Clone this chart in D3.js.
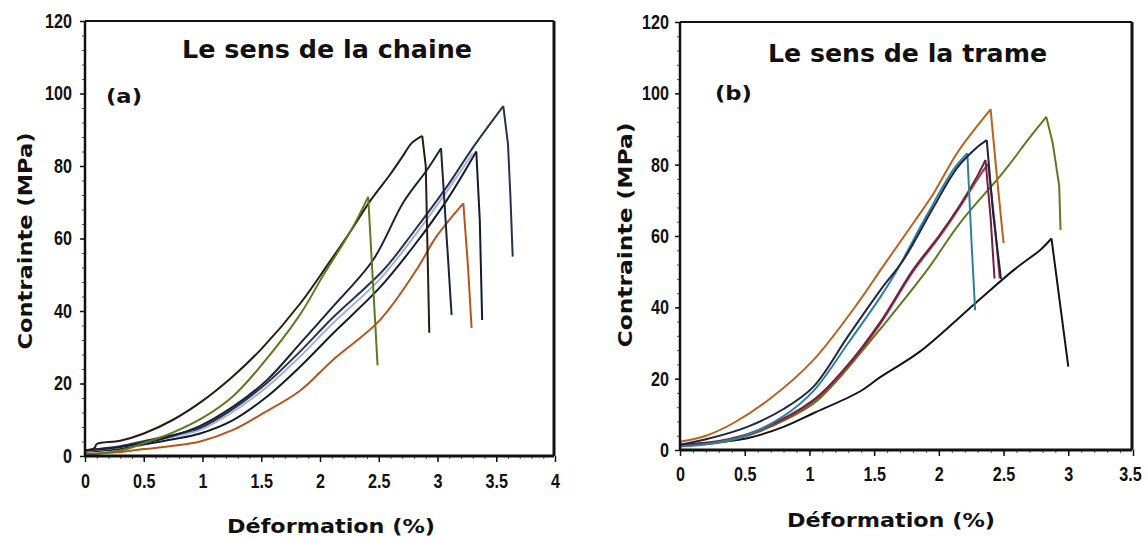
<!DOCTYPE html>
<html><head><meta charset="utf-8">
<script src="https://cdn.jsdelivr.net/npm/d3@7"></script>
<style>
html,body{margin:0;padding:0;background:#fff;}
svg{display:block;}
.tick text{font-family:'Liberation Sans',Arial,sans-serif;font-weight:bold;font-size:20px;fill:#111;}
.ttl{font-family:'DejaVu Sans',Verdana,sans-serif;font-weight:bold;fill:#111;}
</style></head>
<body>
<svg id="c" width="1148" height="537"></svg>
<script>
// ---------- data (x = Déformation %, y = Contrainte MPa) ----------
const xTicksA = [0, 0.5, 1, 1.5, 2, 2.5, 3, 3.5, 4];
const xTicksB = [0, 0.5, 1, 1.5, 2, 2.5, 3, 3.5];
const yTicks = [0, 20, 40, 60, 80, 100, 120];
const titleA = "Le sens de la chaine";
const titleB = "Le sens de la trame";
const tagA = "(a)";
const tagB = "(b)";
const yLabel = "Contrainte (MPa)";
const xLabel = "Déformation (%)";

// Panel (a) - chaîne
const aBrown = [[0,0.5],[0.3,1.1],[0.5,1.9],[0.75,2.8],[0.98,4],[1.26,7.2],[1.5,11.5],[1.83,18],[2.11,26.5],[2.51,37.5],[2.82,51.3],[2.99,60.5],[3.22,69.7],[3.26,52],[3.29,35.3]];
const aNavy4 = [[0,1.2],[0.3,2],[0.5,3.2],[0.75,4.6],[0.98,6.2],[1.26,9.9],[1.55,16.4],[1.83,24.6],[2.11,33.8],[2.51,46.5],[2.8,58],[3.08,70.6],[3.33,84],[3.36,65],[3.38,37.5]];
const aLightBlue = [[0,1.3],[0.3,2.4],[0.5,3.7],[0.75,5.3],[0.98,7.2],[1.26,12.2],[1.55,19.1],[1.83,27.4],[2.11,36.6],[2.51,48.8],[2.8,60.5],[3.08,73],[3.3,83.5]];
const aNavy5 = [[0,1.6],[0.3,2.7],[0.5,4.1],[0.75,5.8],[0.98,7.8],[1.26,13],[1.55,20.2],[1.83,28.8],[2.11,38.2],[2.54,51.3],[2.8,62],[3.08,74.3],[3.3,85],[3.56,96.5],[3.6,86],[3.62,72],[3.64,55]];
const aNavy3 = [[0,1.5],[0.3,2.5],[0.5,3.6],[0.75,5.6],[0.98,8.3],[1.26,13.6],[1.55,21],[1.83,31],[2.11,41.2],[2.45,54],[2.71,70],[2.91,78.9],[3.03,84.9],[3.12,38.9]];
const aBlack = [[0,1.5],[0.08,2.2],[0.1,3.3],[0.3,4.2],[0.5,6.2],[0.75,10],[1.0,15.2],[1.26,22],[1.5,29.5],[1.83,42],[2.07,53],[2.26,62],[2.43,70.5],[2.6,77.8],[2.7,82.5],[2.78,86.3],[2.87,88.3],[2.9,80],[2.93,34]];
const aGreen = [[0,0.3],[0.3,1.5],[0.5,3.5],[0.75,6.5],[1.0,10.5],[1.26,16.5],[1.5,25],[1.83,39],[2.03,50],[2.26,62],[2.41,71.5],[2.49,25]];

// Panel (b) - trame
const bBlack = [[0,1.3],[0.25,2],[0.52,3.3],[0.8,6.5],[1.03,10.3],[1.39,16.4],[1.55,20.5],[1.85,27.5],[2.28,41.1],[2.58,50.5],[2.79,56.3],[2.87,59.3],[2.94,40],[3.0,23.4]];
const bGreen = [[0,1.2],[0.3,2],[0.6,5],[1.03,13],[1.2,19],[1.39,27],[1.55,34],[1.91,50.5],[2.16,63.5],[2.5,78],[2.7,87.5],[2.83,93.4],[2.88,86],[2.93,74],[2.94,61.7]];
const bRed = [[0,1.4],[0.3,2.3],[0.6,5.2],[1.03,13.6],[1.3,23.5],[1.55,35.5],[1.8,50],[2.0,59.5],[2.16,68],[2.3,76],[2.38,80.2],[2.43,64],[2.47,48.1]];
const bMaroon = [[0,1.5],[0.3,2.5],[0.6,5.5],[1.03,14],[1.3,24],[1.55,36],[1.8,50.5],[2.0,60],[2.16,68.5],[2.3,77],[2.36,81.3],[2.4,65],[2.43,48.1]];
const bTeal = [[0,1],[0.2,1.6],[0.5,4],[0.8,9.5],[1.03,16.5],[1.3,30],[1.55,43],[1.67,50],[1.91,66],[2.11,78.5],[2.22,83.2],[2.25,60],[2.28,39.2]];
const bNavy = [[0,1.5],[0.2,3],[0.52,6.5],[0.8,11.5],[1.03,17.7],[1.3,32],[1.55,44.9],[1.73,53.5],[1.95,67.5],[2.14,79],[2.3,85],[2.37,86.9],[2.42,66],[2.48,48]];
const bOrange = [[0,2.3],[0.2,4],[0.41,7.5],[0.7,14.5],[1.03,25.2],[1.39,42],[1.55,50.5],[1.8,63.5],[1.96,72],[2.14,83.2],[2.3,91],[2.4,95.5],[2.45,76],[2.5,58]];

const seriesA = [
  {d:aBrown, c:"#b4561c"}, {d:aNavy4, c:"#151a2e"}, {d:aLightBlue, c:"#9fb3d8"},
  {d:aNavy5, c:"#27324f"}, {d:aNavy3, c:"#1b2238"}, {d:aBlack, c:"#2b1a14"}, {d:aGreen, c:"#5c7c1c"}
];
const seriesB = [
  {d:bBlack, c:"#141414"}, {d:bGreen, c:"#5d7a1f"}, {d:bRed, c:"#a83a3a"}, {d:bMaroon, c:"#6b2443"},
  {d:bTeal, c:"#2f7f9c"}, {d:bNavy, c:"#1e2640"}, {d:bOrange, c:"#b8621e"}
];

const svg = d3.select("#c");

function fitTick(sel) {
  sel.each(function () {
    const t = this.textContent;
    const w = t.replace(/\./g, "").length * 9 + (t.match(/\./g) || []).length * 4.5;
    d3.select(this).attr("textLength", w).attr("lengthAdjust", "spacingAndGlyphs");
  });
}

function drawPanel(p) {
  const x = d3.scaleLinear().domain([0, p.xMax]).range([p.x0, p.x1]);
  const y = d3.scaleLinear().domain([0, 120]).range([p.y0, p.y1]);
  const g = svg.append("g");

  // minor ticks
  const minorX = d3.range(0, p.xMax + 1e-9, 0.1).map(v => +v.toFixed(2));
  const minorY = d3.range(0, 120.001, 4);
  g.append("g").attr("transform", `translate(0,${p.y0})`)
    .call(d3.axisBottom(x).tickValues(minorX).tickSize(3).tickFormat(""))
    .call(s => s.select(".domain").remove())
    .selectAll("line").attr("stroke", "#555");
  g.append("g").attr("transform", `translate(${p.x0},0)`)
    .call(d3.axisLeft(y).tickValues(minorY).tickSize(3).tickFormat(""))
    .call(s => s.select(".domain").remove())
    .selectAll("line").attr("stroke", "#555");

  // major ticks + labels
  const xa = g.append("g").attr("transform", `translate(0,${p.y0})`)
    .call(d3.axisBottom(x).tickValues(p.xTicks).tickSize(6).tickPadding(p.xPad).tickFormat(d3.format("")))
    .call(s => s.select(".domain").remove());
  xa.selectAll("line").attr("stroke", "#111").attr("stroke-width", 1.5);
  xa.selectAll("text").attr("fill", "#111").call(fitTick);
  if (p.lastShift) xa.selectAll(".tick:last-of-type text").attr("dx", p.lastShift);
  const ya = g.append("g").attr("transform", `translate(${p.x0},0)`)
    .call(d3.axisLeft(y).tickValues(yTicks).tickSize(5).tickPadding(p.yPad))
    .call(s => s.select(".domain").remove());
  ya.selectAll("line").attr("stroke", "#111").attr("stroke-width", 1.5);
  ya.selectAll("text").attr("fill", "#111").call(fitTick);

  // curves
  const lineC = d3.line().x(d => x(d[0])).y(d => y(d[1])).curve(d3.curveCatmullRom.alpha(0.5));
  const lineL = d3.line().x(d => x(d[0])).y(d => y(d[1]));
  const cg = g.append("g");
  p.series.forEach(s => {
    const pk = d3.maxIndex(s.d, d => d[1]);
    const rise = s.d.slice(0, pk + 1), drop = s.d.slice(pk);
    cg.append("path").attr("d", lineC(rise)).attr("fill", "none")
      .attr("stroke", s.c).attr("stroke-width", 2).attr("stroke-linejoin", "round");
    if (drop.length > 1)
      cg.append("path").attr("d", lineL(drop)).attr("fill", "none")
        .attr("stroke", s.c).attr("stroke-width", 2).attr("stroke-linejoin", "round");
  });

  // frame
  g.append("line").attr("x1", p.x0).attr("x2", p.xR).attr("y1", p.y1).attr("y2", p.y1).attr("stroke", "#111").attr("stroke-width", 2);
  g.append("line").attr("x1", p.xR).attr("x2", p.xR).attr("y1", p.y1).attr("y2", p.y0).attr("stroke", "#111").attr("stroke-width", 3);
  g.append("line").attr("x1", p.x0).attr("x2", p.xR).attr("y1", p.y0).attr("y2", p.y0).attr("stroke", "#111").attr("stroke-width", 3);
  g.append("line").attr("x1", p.x0).attr("x2", p.x0).attr("y1", p.y1).attr("y2", p.y0).attr("stroke", "#111").attr("stroke-width", 2.5);

  // texts
  g.append("text").attr("class", "ttl").attr("x", p.tX).attr("y", p.tY)
    .attr("font-size", 24).attr("textLength", p.tW).attr("lengthAdjust", "spacingAndGlyphs").text(p.title);
  g.append("text").attr("class", "ttl").attr("x", p.gX).attr("y", p.gY)
    .attr("font-size", 19).attr("textLength", p.gW).attr("lengthAdjust", "spacingAndGlyphs").text(p.tag);
  g.append("text").attr("class", "ttl").attr("transform", `translate(${p.ylX},${p.ylY}) rotate(-90)`)
    .attr("text-anchor", "middle").attr("font-size", 20).attr("textLength", p.ylW).attr("lengthAdjust", "spacingAndGlyphs").text(yLabel);
  g.append("text").attr("class", "ttl").attr("x", p.xlX).attr("y", p.xlY)
    .attr("font-size", 20).attr("textLength", p.xlW).attr("lengthAdjust", "spacingAndGlyphs").text(xLabel);
}

drawPanel({x0:85, x1:555, xR:554, y0:456, y1:21, xMax:4, xTicks:xTicksA, xPad:12, yPad:8,
  series:seriesA, title:titleA, tX:182, tY:58, tW:290, tag:tagA, gX:106, gY:103, gW:36,
  ylX:32, ylY:241, ylW:217, xlX:227, xlY:533, xlW:208});
drawPanel({x0:680, x1:1133, xR:1132, y0:450, y1:22, xMax:3.5, xTicks:xTicksB, xPad:11, yPad:6, lastShift:-3,
  series:seriesB, title:titleB, tX:768, tY:62, tW:279, tag:tagB, gX:715, gY:100, gW:37,
  ylX:632, ylY:235, ylW:225, xlX:787, xlY:527, xlW:208});
</script>
</body></html>
